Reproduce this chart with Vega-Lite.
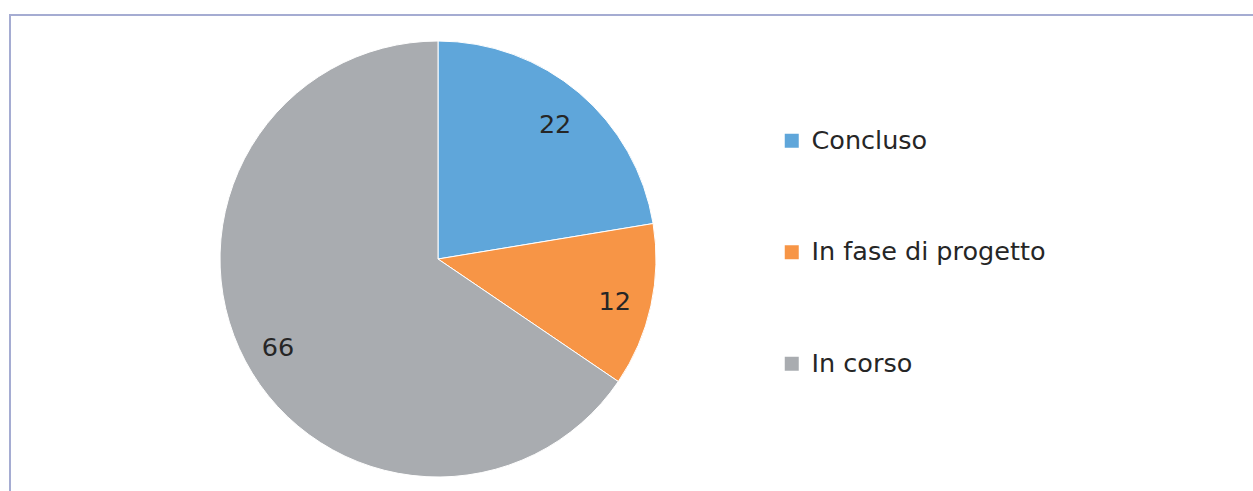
{
  "$schema": "https://vega.github.io/schema/vega-lite/v6.json",
  "width": 1248,
  "height": 480,
  "autosize": {"type": "none"},
  "padding": {"left": 10, "top": 15, "right": 0, "bottom": 0},
  "background": "white",
  "view": {"stroke": "#A5ACD2", "strokeWidth": 2, "fill": "white"},
  "config": {
    "font": "DejaVu Sans"
  },
  "data": {
    "values": [
      {"stato": "Concluso", "valore": 22.4, "ord": 1},
      {"stato": "In fase di progetto", "valore": 12.1, "ord": 2},
      {"stato": "In corso", "valore": 65.5, "ord": 3}
    ]
  },
  "encoding": {
    "theta": {"field": "valore", "type": "quantitative", "stack": true},
    "order": {"field": "ord", "type": "quantitative"},
    "color": {
      "field": "stato",
      "type": "nominal",
      "sort": ["Concluso", "In fase di progetto", "In corso"],
      "scale": {
        "domain": ["Concluso", "In fase di progetto", "In corso"],
        "range": ["#5FA6DA", "#F79546", "#A9ACB0"]
      },
      "legend": {
        "title": null,
        "orient": "none",
        "legendX": 769,
        "legendY": 113,
        "padding": 0,
        "symbolType": "square",
        "symbolSize": 196,
        "symbolStrokeWidth": 0,
        "labelFont": "DejaVu Sans",
        "labelFontSize": 25.5,
        "labelColor": "#262626",
        "labelOffset": 7,
        "labelLimit": 400,
        "rowPadding": 84.5
      }
    }
  },
  "layer": [
    {
      "mark": {"type": "arc", "x": 428, "y": 244, "outerRadius": 218, "stroke": "white", "strokeWidth": 1}
    },
    {
      "mark": {"type": "text", "x": 428, "y": 244, "radius": 181, "dy": 4, "font": "DejaVu Sans", "fontSize": 25.5, "fill": "#262626"},
      "encoding": {
        "text": {"field": "valore", "type": "quantitative", "format": ".0f"},
        "color": {"value": "#262626"}
      }
    }
  ]
}
